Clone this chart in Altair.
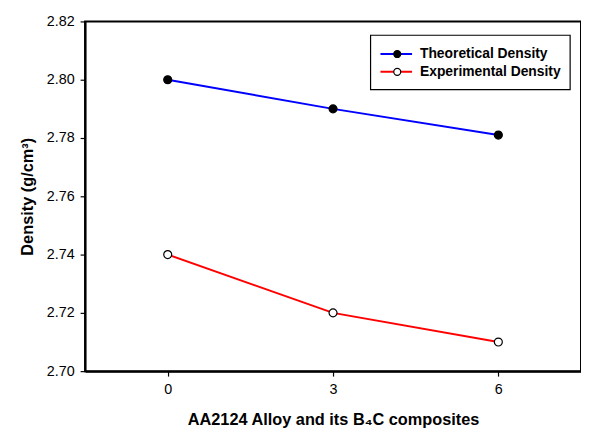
import altair as alt
import pandas as pd

# Data
composites = [0, 3, 6]
theoretical = [2.800, 2.790, 2.781]
experimental = [2.740, 2.720, 2.710]
series_names = ["Theoretical Density", "Experimental Density"]
line_colors = ["#0000ff", "#ff0000"]
marker_fills = ["black", "white"]
y_ticks = [2.70, 2.72, 2.74, 2.76, 2.78, 2.80, 2.82]

rows = []
for x, v in zip(composites, theoretical):
    rows.append({"x": x, "density": v, "series": series_names[0]})
for x, v in zip(composites, experimental):
    rows.append({"x": x, "density": v, "series": series_names[1]})
df = pd.DataFrame(rows)

FONT = "Liberation Sans"
W, H = 502, 354

xenc = alt.X("x:Q", scale=alt.Scale(domain=[-1.5, 7.5], nice=False, zero=False),
             axis=alt.Axis(values=composites, title="AA2124 Alloy and its B\u2084C composites",
                           grid=False, tickSize=5, labelPadding=7, titlePadding=15))
yenc = alt.Y("density:Q", scale=alt.Scale(domain=[2.70, 2.82], nice=False, zero=False),
             axis=alt.Axis(values=y_ticks, format=".2f", title="Density (g/cm\u00b3)",
                           grid=False, tickSize=5, labelPadding=6, titlePadding=11))

base = alt.Chart(df)
lines = base.mark_line(strokeWidth=2).encode(
    x=xenc, y=yenc,
    color=alt.Color("series:N", scale=alt.Scale(domain=series_names, range=line_colors), legend=None),
    detail="series:N",
)
points = base.mark_point(filled=True, size=65, stroke="black", strokeWidth=1.2, opacity=1).encode(
    x=xenc, y=yenc,
    fill=alt.Fill("series:N", scale=alt.Scale(domain=series_names, range=marker_fills), legend=None),
)

# Legend (drawn as decoration)
legend_box = alt.Chart(pd.DataFrame({"a": [0]})).mark_rect(
    fill="white", stroke="black", strokeWidth=1.2
).encode(x=alt.value(289), x2=alt.value(491), y=alt.value(14), y2=alt.value(69))

legend_layers = [legend_box]
legend_y = [33, 51]
for name, col, fillc, ly in zip(series_names, line_colors, marker_fills, legend_y):
    d = pd.DataFrame({"label": [name]})
    legend_layers.append(alt.Chart(d).mark_rule(color=col, strokeWidth=2).encode(
        x=alt.value(299), x2=alt.value(331), y=alt.value(ly)))
    legend_layers.append(alt.Chart(d).mark_point(filled=True, size=50, fill=fillc, stroke="black",
                                                  strokeWidth=1.2, opacity=1).encode(
        x=alt.value(316), y=alt.value(ly)))
    legend_layers.append(alt.Chart(d).mark_text(align="left", baseline="middle", font=FONT,
                                                 fontSize=14, fontWeight="bold", color="black").encode(
        x=alt.value(339), y=alt.value(ly), text="label:N"))

chart = alt.layer(lines, points, *legend_layers).properties(
    width=W, height=H,
    autosize=alt.AutoSizeParams(type="none"),
    padding={"left": 78, "top": 11, "right": 0, "bottom": 60},
).configure_view(
    stroke="black", strokeWidth=2
).configure_axis(
    domainColor="black", domainWidth=2, tickColor="black", tickWidth=1.2,
    labelFont=FONT, labelFontSize=14.5, labelColor="black",
    titleFont=FONT, titleFontSize=16.5, titleFontWeight="bold", titleColor="black",
)

chart.save("out.html", embed_options={"renderer": "svg", "actions": False})
